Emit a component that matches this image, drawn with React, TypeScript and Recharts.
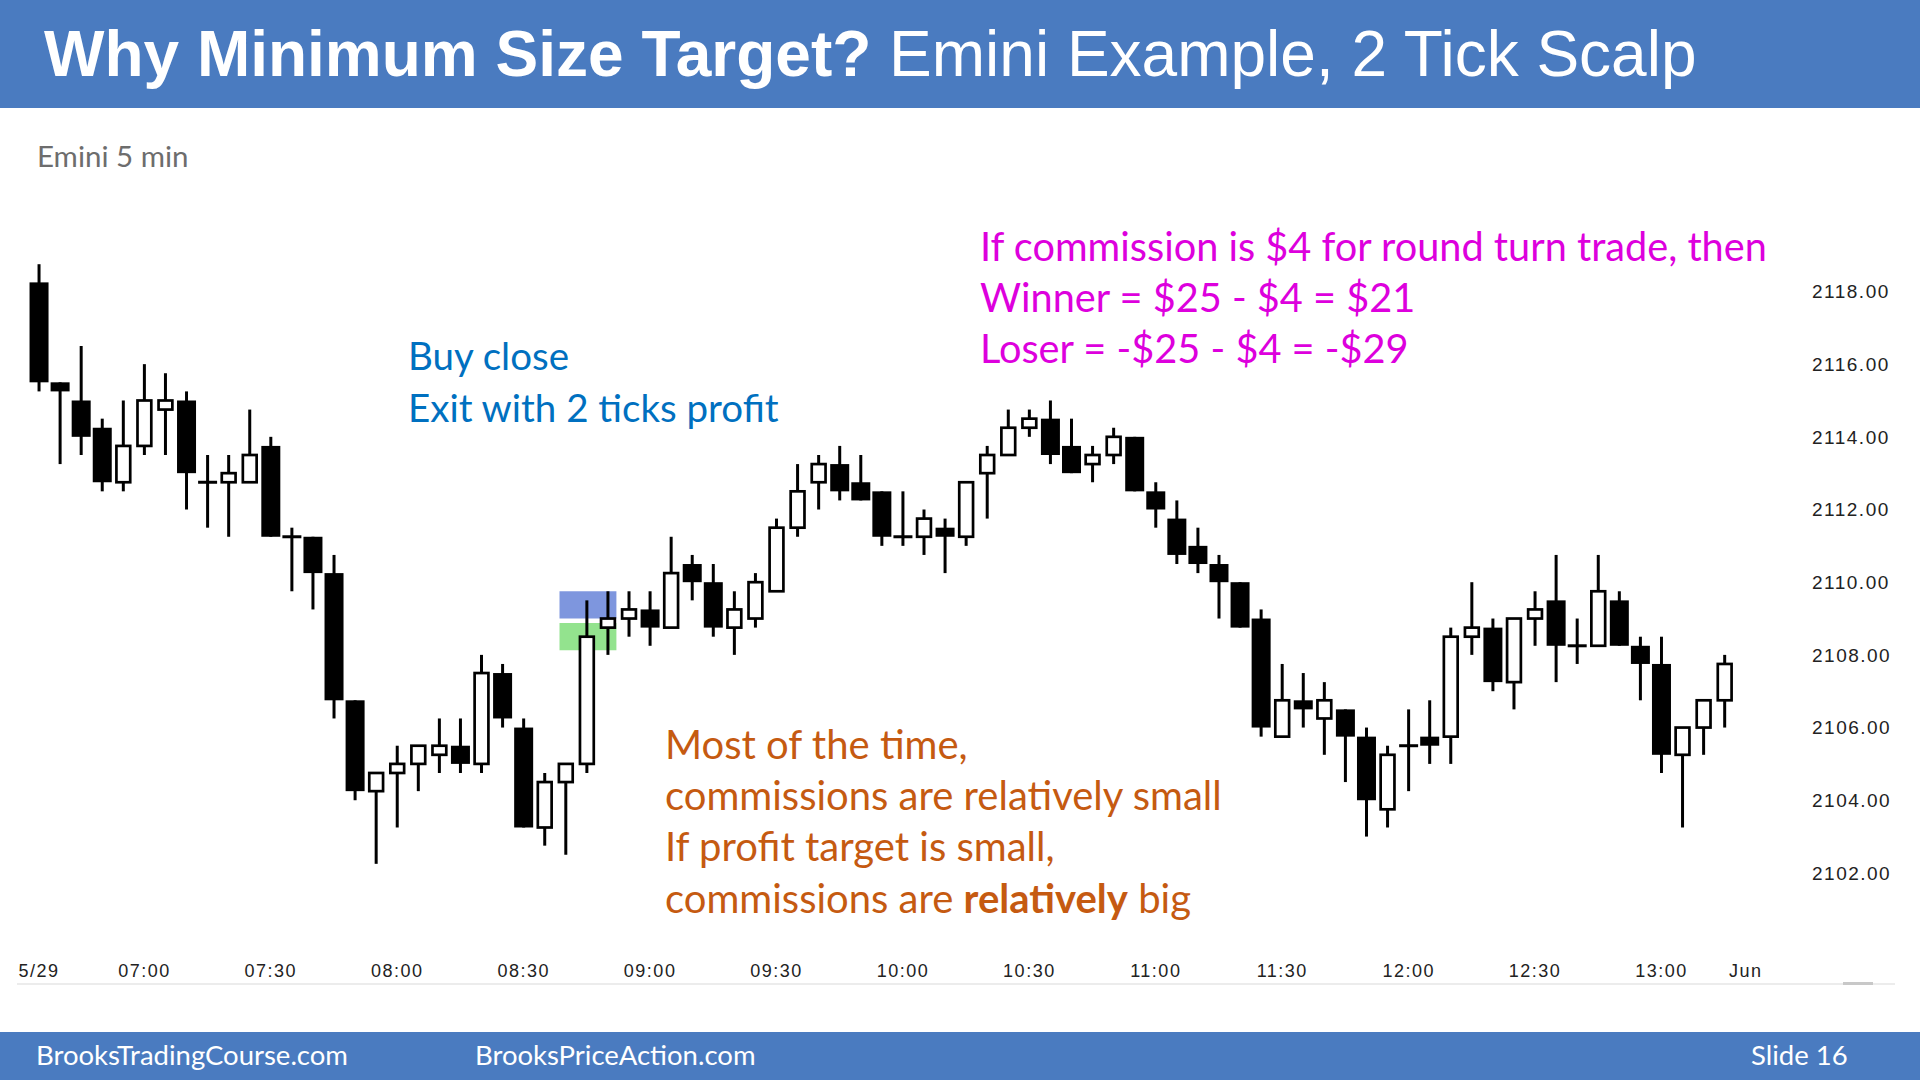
import React from 'react';
import { Bar, ComposedChart, ReferenceArea, XAxis, YAxis } from 'recharts';

// Emini 5 min bars, 06:35 .. 13:15
const opens = [
  2118.25, 2115.5, 2115, 2114.25, 2112.75, 2113.75, 2114.75, 2115, 2112.75, 2112.75,
  2112.75, 2113.75, 2111.25, 2111.25, 2110.25, 2106.75, 2104.25, 2104.75, 2105, 2105.25,
  2105.5, 2105, 2107.5, 2106, 2103.25, 2104.5, 2105, 2108.75, 2109, 2109.25,
  2108.75, 2110.5, 2110, 2108.75, 2109, 2109.75, 2111.5, 2112.75, 2113.25, 2112.75,
  2112.5, 2111.25, 2111.25, 2111.5, 2111.25, 2113, 2113.5, 2114.25, 2114.5, 2113.75,
  2113.25, 2113.5, 2114, 2112.5, 2111.75, 2111, 2110.5, 2110, 2109, 2105.75,
  2106.75, 2106.25, 2106.5, 2105.75, 2103.75, 2105.5, 2105.75, 2105.75, 2108.5, 2108.75,
  2107.25, 2109, 2109.5, 2108.25, 2108.25, 2109.5, 2108.25, 2107.75, 2105.25, 2106,
  2106.75,
];
const highs = [
  2118.75, 2115.5, 2116.5, 2114.5, 2115, 2116, 2115.75, 2115.25, 2113.5, 2113.5,
  2114.75, 2114, 2111.5, 2111.25, 2110.75, 2106.75, 2104.75, 2105.5, 2105.5, 2106.25,
  2106.25, 2108, 2107.75, 2106.25, 2104.75, 2105, 2109.5, 2109.75, 2109.75, 2109.75,
  2111.25, 2110.75, 2110.5, 2109.75, 2110.25, 2111.75, 2113.25, 2113.5, 2113.75, 2113.5,
  2112.5, 2112.5, 2112, 2111.75, 2112.75, 2113.75, 2114.75, 2114.75, 2115, 2114.5,
  2113.75, 2114.25, 2114, 2112.75, 2112.25, 2111.5, 2110.75, 2110, 2109.25, 2107.75,
  2107.5, 2107.25, 2106.5, 2106, 2105.5, 2106.5, 2106.75, 2108.75, 2110, 2109,
  2109, 2109.75, 2110.75, 2109, 2110.75, 2109.75, 2108.5, 2108.5, 2106, 2106.75,
  2108,
];
const lows = [
  2115.25, 2113.25, 2113.5, 2112.5, 2112.5, 2113.5, 2113.5, 2112, 2111.5, 2111.25,
  2112.75, 2111.25, 2109.75, 2109.25, 2106.25, 2104, 2102.25, 2103.25, 2104.25, 2104.75,
  2104.75, 2104.75, 2106, 2103.25, 2102.75, 2102.5, 2104.75, 2108, 2108.5, 2108.25,
  2108.75, 2109.5, 2108.5, 2108, 2108.75, 2109.75, 2111.25, 2112, 2112.25, 2112.25,
  2111, 2111, 2110.75, 2110.25, 2111, 2111.75, 2113.5, 2114, 2113.25, 2113,
  2112.75, 2113.25, 2112.5, 2111.5, 2110.5, 2110.25, 2109, 2108.75, 2105.75, 2105.75,
  2106, 2105.25, 2104.5, 2103, 2103.25, 2104.25, 2105, 2105, 2108, 2107,
  2106.5, 2108.25, 2107.25, 2107.75, 2108.25, 2108.25, 2106.75, 2104.75, 2103.25, 2105.25,
  2106,
];
const closes = [
  2115.5, 2115.25, 2114, 2112.75, 2113.75, 2115, 2115, 2113, 2112.75, 2113,
  2113.5, 2111.25, 2111.25, 2110.25, 2106.75, 2104.25, 2104.75, 2105, 2105.5, 2105.5,
  2105, 2107.5, 2106.25, 2103.25, 2104.5, 2105, 2108.5, 2109, 2109.25, 2108.75,
  2110.25, 2110, 2108.75, 2109.25, 2110, 2111.5, 2112.5, 2113.25, 2112.5, 2112.25,
  2111.25, 2111.25, 2111.75, 2111.25, 2112.75, 2113.5, 2114.25, 2114.5, 2113.5, 2113,
  2113.5, 2114, 2112.5, 2112, 2110.75, 2110.5, 2110, 2108.75, 2106, 2106.75,
  2106.5, 2106.75, 2105.75, 2104, 2105.25, 2105.5, 2105.5, 2108.5, 2108.75, 2107.25,
  2109, 2109.25, 2108.25, 2108.25, 2109.75, 2108.25, 2107.75, 2105.25, 2106, 2106.75,
  2107.75,
];

const tickBars = [0, 5, 11, 17, 23, 29, 35, 41, 47, 53, 59, 65, 71, 77, 81];
const tickLabels = ['5/29', '07:00', '07:30', '08:00', '08:30', '09:00', '09:30', '10:00',
  '10:30', '11:00', '11:30', '12:00', '12:30', '13:00', 'Jun'];
const priceTicks = [2102, 2104, 2106, 2108, 2110, 2112, 2114, 2116, 2118];

const data = opens.map((o, i) => ({
  i,
  open: o,
  high: highs[i],
  low: lows[i],
  close: closes[i],
  range: [lows[i], highs[i]],
}));

const Candle = (props: any) => {
  const { x, y, width, height, payload } = props;
  const { open, close, high, low } = payload;
  const top = Math.min(y, y + height);
  const h = Math.abs(height);
  const cx = x + width / 2;
  const toY = (v: number) => top + ((high - v) / (high - low)) * h;
  const yO = toY(open);
  const yC = toY(close);
  const bTop = Math.min(yO, yC);
  const bBot = Math.max(yO, yC);
  return (
    <g>
      <line x1={cx} x2={cx} y1={top} y2={top + h} stroke="#000" strokeWidth={3} />
      {open === close ? (
        <line x1={cx - width / 2} x2={cx + width / 2} y1={yO} y2={yO} stroke="#000" strokeWidth={3} />
      ) : close < open ? (
        <rect x={cx - width / 2} y={bTop} width={width} height={bBot - bTop} fill="#000" />
      ) : (
        <rect x={cx - width / 2 + 2.6} y={bTop} width={width - 5.2} height={bBot - bTop}
          fill="#fff" stroke="#000" strokeWidth={2.7} />
      )}
    </g>
  );
};

const blue = '#0070c0';
const magenta = '#dd00dd';
const orange = '#c55a11';
const textFont = 'Lato, "Open Sans", sans-serif';

export default function App() {
  return (
    <div style={{ position: 'absolute', left: 0, top: 0, width: 1920, height: 1080, background: '#fff', overflow: 'hidden' }}>
      <div style={{ position: 'absolute', left: 0, top: 0, width: 1920, height: 108, background: '#4a7bc0' }} />
      <div style={{ position: 'absolute', left: 0, top: 1032, width: 1920, height: 48, background: '#4a7bc0' }} />

      <div style={{ position: 'absolute', left: 0, top: 0 }}>
        <ComposedChart width={1920} height={1000} data={data}
          margin={{ top: 146.1, right: 0, bottom: 24.4, left: 18 }}>
          <XAxis type="number" dataKey="i" domain={[-1, 84]} ticks={tickBars} interval={0}
            tickFormatter={(v: number) => tickLabels[tickBars.indexOf(v)] ?? ''}
            axisLine={false} tickLine={false} tickSize={0} tickMargin={19} height={30}
            tick={{ fill: '#222', fontSize: 18, fontFamily: '"Liberation Sans", Arial', letterSpacing: 1.5 }} />
          <YAxis orientation="right" type="number" domain={[2100, 2122]} ticks={priceTicks}
            width={111} axisLine={false} tickLine={false} tickSize={0} tickMargin={3}
            tickFormatter={(v: number) => v.toFixed(2)}
            tick={{ fill: '#222', fontSize: 19, fontFamily: '"Liberation Sans", Arial', letterSpacing: 1.5 }} />
          <Bar dataKey="range" barSize={19} shape={<Candle />} isAnimationActive={false} />
          <ReferenceArea x1={24.7} x2={27.4} y1={2109} y2={2109.75}
            fill="rgb(40,80,200)" fillOpacity={0.6} stroke="none" />
          <ReferenceArea x1={24.7} x2={27.4} y1={2108.125} y2={2108.875}
            fill="rgb(40,200,30)" fillOpacity={0.5} stroke="none" />
        </ComposedChart>
      </div>

      <div style={{ position: 'absolute', left: 17, top: 983, width: 1878, height: 2, background: '#ececec' }} />
      <div style={{ position: 'absolute', left: 1843, top: 982, width: 30, height: 3, background: '#c8c8c8' }} />

      <svg width={1920} height={1080} style={{ position: 'absolute', left: 0, top: 0, pointerEvents: 'none' }}>
        <text x={44} y={76} fill="#fff" fontSize={64} fontFamily='"Liberation Sans", Arial'>
          <tspan fontWeight="bold">Why Minimum Size Target?</tspan>
          <tspan> Emini Example, 2 Tick Scalp</tspan>
        </text>
        <text x={37} y={167} fill="#6d6d6d" fontSize={29.5} fontFamily={textFont}>Emini 5 min</text>

        <text fill={blue} fontSize={38.5} fontFamily={textFont}>
          <tspan x={408} y={370}>Buy close</tspan>
          <tspan x={408} y={422}>Exit with 2 ticks profit</tspan>
        </text>

        <text fill={magenta} fontSize={39.7} fontFamily={textFont}>
          <tspan x={980} y={261}>If commission is $4 for round turn trade, then</tspan>
          <tspan x={980} y={312}>Winner = $25 - $4 = $21</tspan>
          <tspan x={980} y={363}>Loser = -$25 - $4 = -$29</tspan>
        </text>

        <text fill={orange} fontSize={40} fontFamily={textFont}>
          <tspan x={665} y={759}>Most of the time,</tspan>
          <tspan x={665} y={810}>commissions are relatively small</tspan>
          <tspan x={665} y={861}>If profit target is small,</tspan>
          <tspan x={665} y={913}>commissions are <tspan fontWeight="bold">relatively</tspan> big</tspan>
        </text>

        <text fill="#fff" fontSize={27.5} fontFamily={textFont}>
          <tspan x={36} y={1065}>BrooksTradingCourse.com</tspan>
          <tspan x={475} y={1065}>BrooksPriceAction.com</tspan>
          <tspan x={1751} y={1065}>Slide  16</tspan>
        </text>
      </svg>
    </div>
  );
}
